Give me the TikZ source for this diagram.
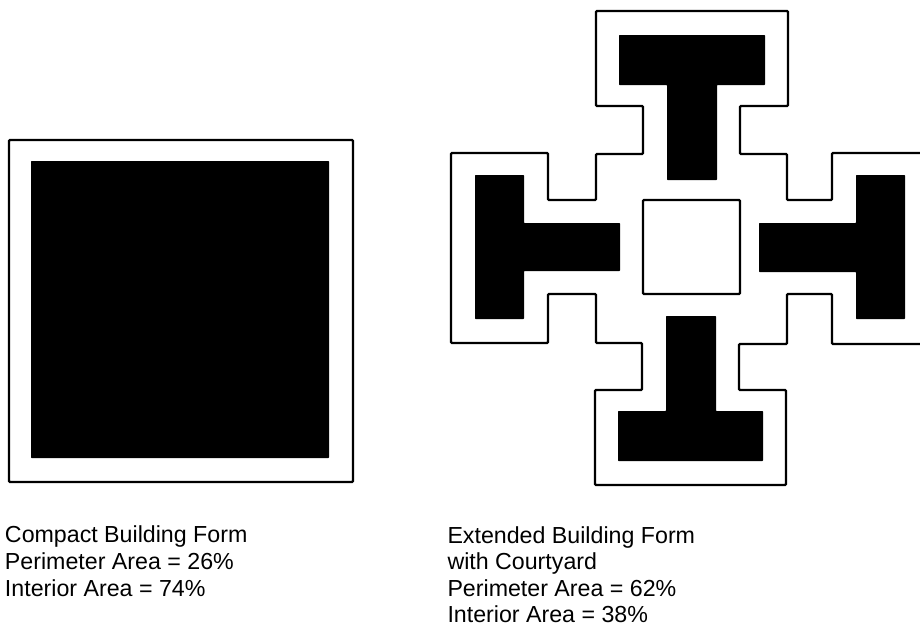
\documentclass[tikz,border=0pt]{standalone}
\usepackage{fontspec}
\setmainfont{Liberation Sans}
\usetikzlibrary{positioning}
\begin{document}
\begin{tikzpicture}[
  x=1pt, y=-1pt,
  every node/.style={inner sep=0pt, outer sep=0pt},
  wall/.style={draw=black, line width=2.3pt, rounded corners=1pt},
  core/.style={fill=black, rounded corners=0.6pt},
  caption/.style={anchor=north west, align=left, text=black,
                  font=\fontsize{23.2}{27}\selectfont},
]
\useasboundingbox (0,0) rectangle (920,627);

% ---------------------------------------------------------------- compact form
\draw[wall] (9,140) rectangle (353,482);
\fill[core] (31,161) rectangle (329,458);

% ---------------------------------------------------------------- extended form, outline
\draw[wall] (922,153) -- (832,153) -- (832,200) -- (787,200) -- (787,154)
  -- (740,154) -- (740,106) -- (788,106) -- (788,11) -- (596,11) -- (596,106)
  -- (643,106) -- (643,154) -- (596,154) -- (596,200) -- (548,200) -- (548,153)
  -- (451,153) -- (451,343) -- (548,343) -- (548,294) -- (596,294) -- (596,343)
  -- (642,343) -- (642,390) -- (595,390) -- (595,485) -- (786,485) -- (786,390)
  -- (739,390) -- (739,344) -- (787,344) -- (787,294) -- (832,294) -- (832,344)
  -- (922,344);

% ---------------------------------------------------------------- courtyard
\draw[wall] (643,200) rectangle (740,294);

% ---------------------------------------------------------------- wings
\fill[core] (619,35) -- (765,35) -- (765,85) -- (717,85) -- (717,180)
  -- (667,180) -- (667,85) -- (619,85) -- cycle;
\fill[core] (666,316) -- (716,316) -- (716,411) -- (763,411) -- (763,461)
  -- (618,461) -- (618,411) -- (666,411) -- cycle;
\fill[core] (475,175) -- (524,175) -- (524,223) -- (620,223) -- (620,271)
  -- (524,271) -- (524,319) -- (475,319) -- cycle;
\fill[core] (856,175) -- (905,175) -- (905,319) -- (856,319) -- (856,272)
  -- (759,272) -- (759,223) -- (856,223) -- cycle;

% ---------------------------------------------------------------- captions
\node[caption] (compact) at (5,526)
  {Compact Building Form\\ Perimeter Area = 26\%\\ Interior Area = 74\%};
\node[caption] (extended) at (447.5,526.5)
  {Extended Building Form\\[-0.6pt] with Courtyard\\[-0.6pt] Perimeter Area = 62\%\\[-0.6pt] Interior Area = 38\%};

\end{tikzpicture}
\end{document}
